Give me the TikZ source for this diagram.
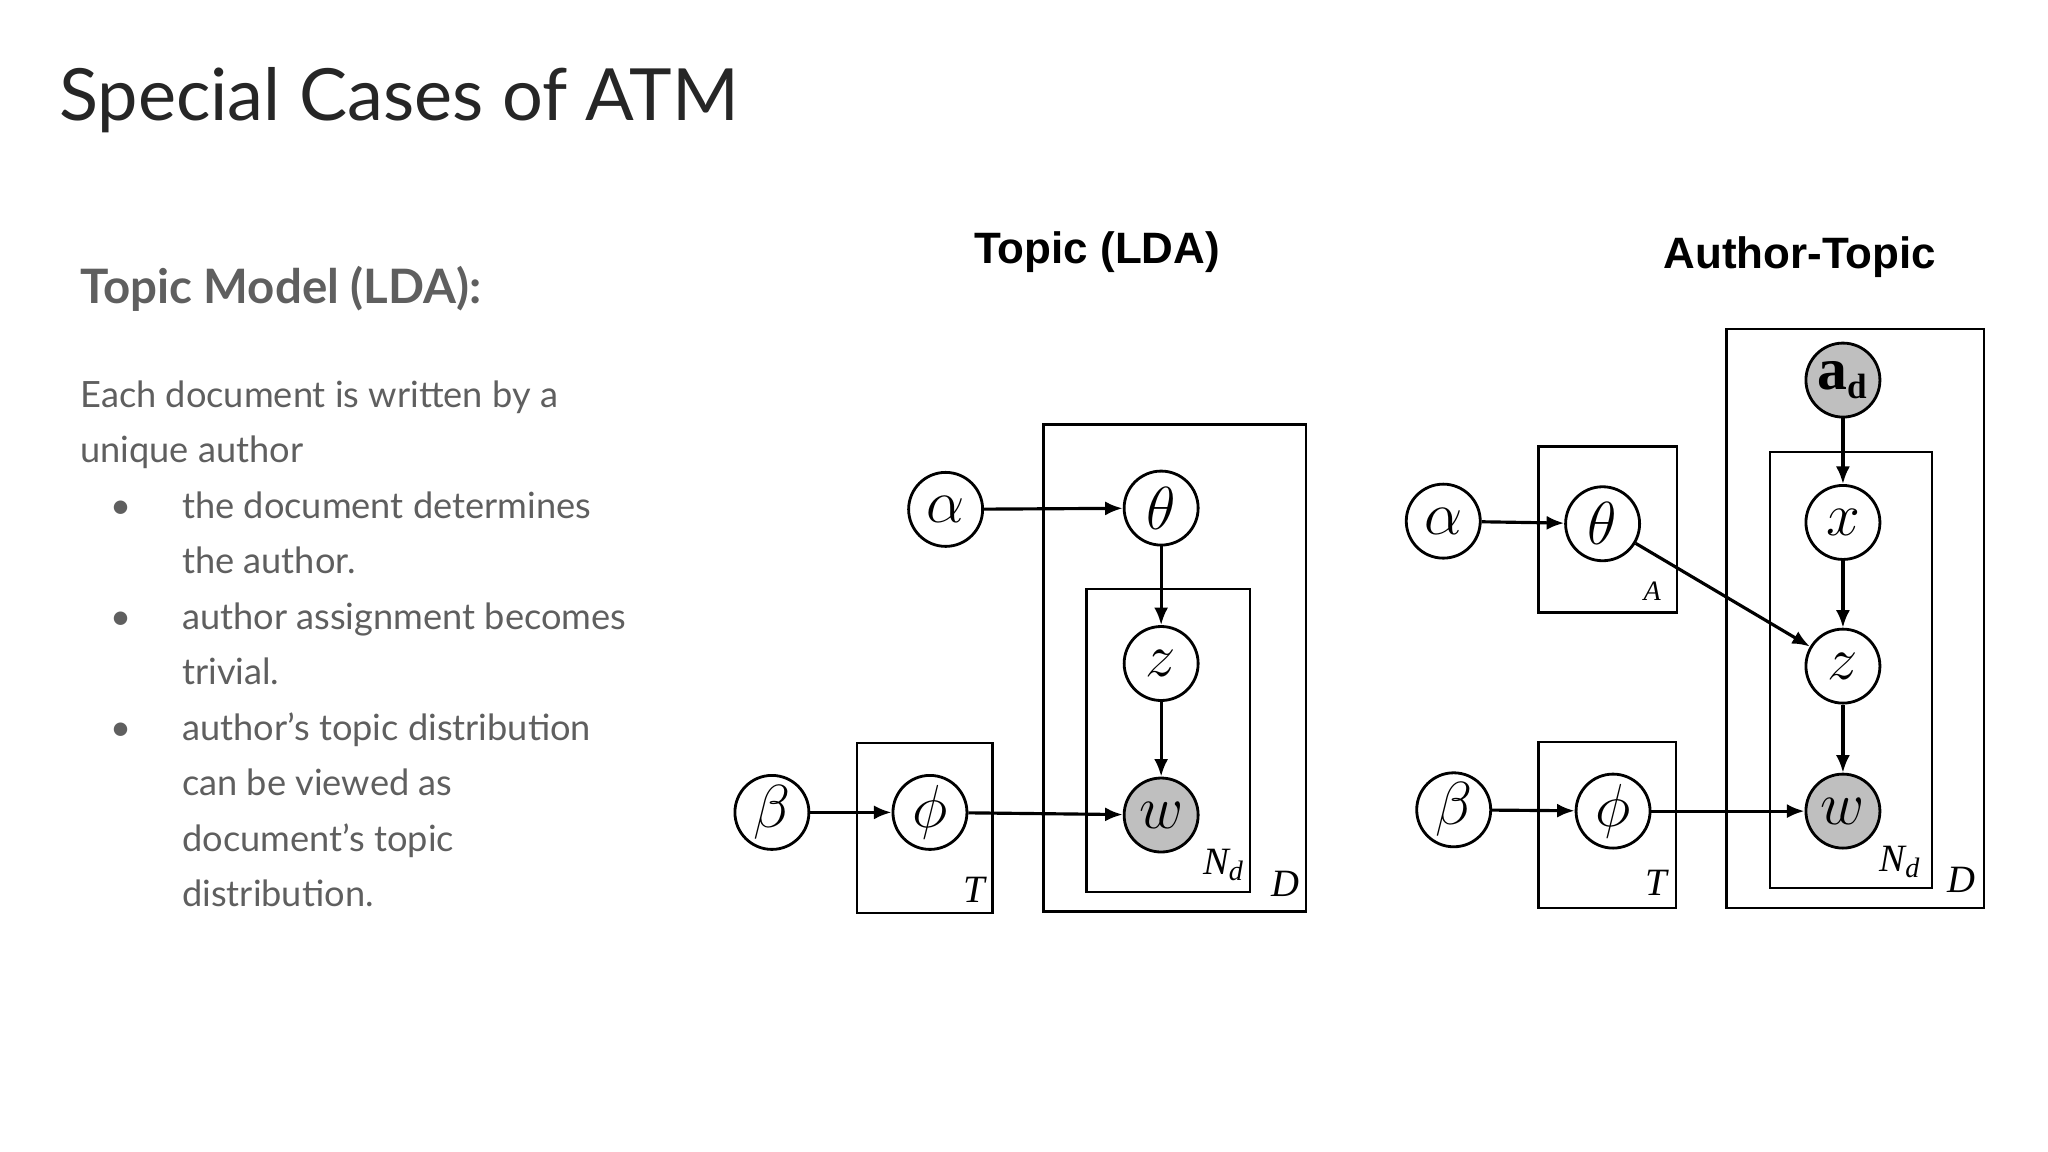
\documentclass[tikz,border=0pt]{standalone}
\usepackage{fontspec}
\setmainfont{Lato}
\newfontfamily\arialf{Liberation Sans}
\newfontfamily\timesf{Liberation Serif}
\usetikzlibrary{arrows.meta}
\definecolor{txt}{RGB}{95,95,95}
\begin{document}
\begin{tikzpicture}[x=0.01306cm,y=-0.01306cm,
  v/.style={circle,draw,line width=0.8pt,minimum size=0.74cm,inner sep=0pt,font=\fontsize{17}{17}\selectfont},
  obs/.style={v,fill=black!25},
  plate/.style={draw,line width=0.7pt},
  pl/.style={font=\timesf\itshape\fontsize{11}{11}\selectfont},
  e/.style={-{Latex[length=5pt,width=4pt]},line width=0.9pt},
  body/.style={anchor=base west,text=txt,font=\fontsize{10.3}{12}\selectfont},
  ttl/.style={font=\arialf\bfseries\fontsize{12.5}{14}\selectfont}]
\useasboundingbox (0,0) rectangle (1568,882);
\node[anchor=base west,text=black!85,font=\fontsize{20.5}{24}\selectfont] (title) at (36,92) {Special Cases of ATM};
\node[anchor=base west,text=txt,font=\bfseries\fontsize{13.5}{16}\selectfont] (sub) at (52,232) {Topic Model (LDA):};
\node[body] (l1) at (52,312) {Each document is written by a};
\node[body] (l2) at (52,354) {unique author};
\foreach \y/\t in {397/the document determines,439/the author.,482/author assignment becomes,524/trivial.,567/author’s topic distribution,609/can be viewed as,652/document’s topic,694/distribution.}
  \node[body] at (130,\y) {\t};
\foreach \y in {397,482,567} \node[body] at (75,\y) {\textbullet};
% LDA
\node[ttl] (t1) at (840,193) {Topic (LDA)};
\draw[plate] (799,325) rectangle (1000,698);
\draw[plate] (832,451) rectangle (957,683);
\draw[plate] (656,569) rectangle (760,699);
\node[pl] (nd1) at (937,662) {N\textsubscript{\fontsize{8}{8}\selectfont d}};
\node[pl] (d1) at (984,677) {D};
\node[pl] (tt1) at (746,681) {T};
\node[v] (a1) at (724,390) {$\alpha$};
\node[v] (th1) at (889,389) {$\theta$};
\node[v] (z1) at (889,508) {$z$};
\node[obs] (w1) at (889,624) {$w$};
\node[v] (b1) at (591,622) {$\beta$};
\node[v] (p1) at (712,622) {$\phi$};
\draw[e] (a1)--(th1); \draw[e] (th1)--(z1); \draw[e] (z1)--(w1);
\draw[e] (b1)--(p1); \draw[e] (p1)--(w1);
% ATM
\node[ttl] (t2) at (1378,197) {Author-Topic};
\draw[plate] (1322,252) rectangle (1519,695);
\draw[plate] (1355,346) rectangle (1479,680);
\draw[plate] (1178,342) rectangle (1284,469);
\draw[plate] (1178,568) rectangle (1283,695);
\node[pl,font=\timesf\itshape\fontsize{8}{8}\selectfont] (aa) at (1265,453) {A};
\node[pl] (tt2) at (1268,676) {T};
\node[pl] (nd2) at (1455,660) {N\textsubscript{\fontsize{8}{8}\selectfont d}};
\node[pl] (d2) at (1502,674) {D};
\node[obs] (ad) at (1411,291) {\timesf\bfseries a\textsubscript{\fontsize{10}{10}\selectfont d}};
\node[v] (x2) at (1411,400) {$x$};
\node[v] (z2) at (1411,510) {$z$};
\node[obs] (w2) at (1411,621) {$w$};
\node[v] (a2) at (1105,399) {$\alpha$};
\node[v] (th2) at (1227,401) {$\theta$};
\node[v] (b2) at (1113,620) {$\beta$};
\node[v] (p2) at (1235,621) {$\phi$};
\draw[e] (a2)--(th2); \draw[e] (th2)--(z2); \draw[e] (ad)--(x2);
\draw[e] (x2)--(z2); \draw[e] (z2)--(w2);
\draw[e] (b2)--(p2); \draw[e] (p2)--(w2);
\end{tikzpicture}
\end{document}
